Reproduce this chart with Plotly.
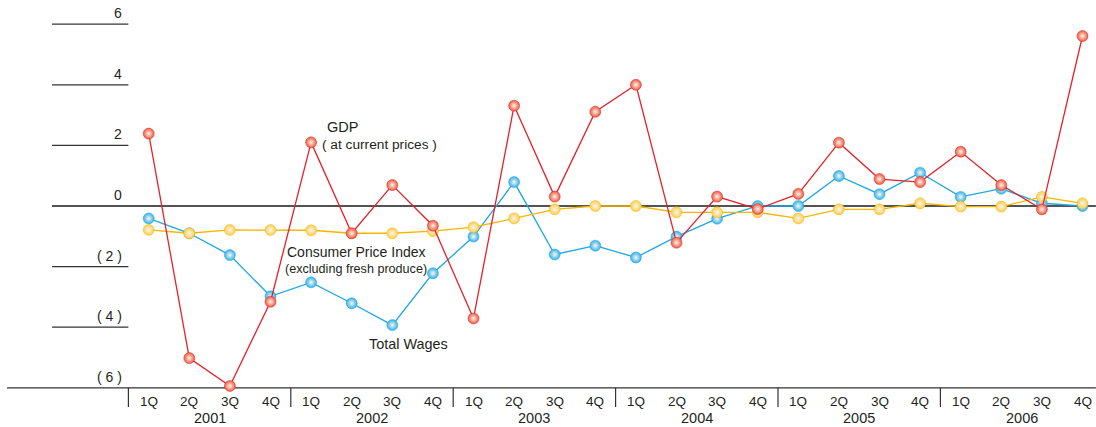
import plotly.graph_objects as go

years = ["2001", "2002", "2003", "2004", "2005", "2006"]
quarters = ["1Q", "2Q", "3Q", "4Q"]
periods = [f"{y} {q}" for y in years for q in quarters]

gdp = [2.39, -5.02, -5.94, -3.16,
       2.10, -0.90, 0.69, -0.65,
       -3.71, 3.31, 0.31, 3.11,
       4.00, -1.21, 0.31, -0.10,
       0.40, 2.09, 0.89, 0.79,
       1.79, 0.69, -0.11, 5.61]
wages = [-0.41, -0.90, -1.62, -2.98,
         -2.52, -3.21, -3.93, -2.22,
         -1.01, 0.79, -1.60, -1.31,
         -1.70, -1.01, -0.42, 0.00,
         0.00, 0.99, 0.39, 1.10,
         0.30, 0.57, 0.09, 0.00]
cpi = [-0.79, -0.90, -0.79, -0.79,
       -0.80, -0.90, -0.90, -0.83,
       -0.70, -0.41, -0.11, 0.00,
       0.00, -0.21, -0.21, -0.21,
       -0.41, -0.11, -0.11, 0.09,
       -0.02, -0.02, 0.30, 0.09]

y_ticks = [6, 4, 2, 0, -2, -4, -6]
y_tick_labels = ["6", "4", "2", "0", "( 2 )", "( 4 )", "( 6 )"]

FONT = "Liberation Sans, Arial, sans-serif"
xs = list(range(len(periods)))

fig = go.Figure()

def add_series(vals, line_color, fill, name):
    fig.add_trace(go.Scatter(
        x=xs, y=vals, mode="lines+markers", name=name,
        line=dict(color=line_color, width=1.3),
        marker=dict(size=11, color=fill,
                    line=dict(color=line_color, width=0.5),
                    gradient=dict(type="radial", color="#fff4ee")),
        hovertext=periods, showlegend=False,
    ))

add_series(wages, "#1ea7e4", "#2fb2ea", "Total Wages")
add_series(cpi, "#f7b500", "#fbcf4f", "Consumer Price Index")
add_series(gdp, "#e3222b", "#ec5a3c", "GDP")

shapes = []
annotations = []
for v, lab in zip(y_ticks, y_tick_labels):
    if v == 0:
        shapes.append(dict(type="line", xref="x", yref="y", x0=-2.38, x1=23.33,
                           y0=0, y1=0, line=dict(color="#1a1a1a", width=1.5), layer="below"))
    elif v == -6:
        shapes.append(dict(type="line", xref="x", yref="y", x0=-3.49, x1=23.33,
                           y0=-6, y1=-6, line=dict(color="#333333", width=1.3), layer="below"))
    else:
        shapes.append(dict(type="line", xref="x", yref="y", x0=-2.38, x1=-0.5,
                           y0=v, y1=v, line=dict(color="#333333", width=1.2), layer="below"))
    annotations.append(dict(x=-0.6, y=v, xref="x", yref="y", text=lab,
                            showarrow=False, xanchor="right", yanchor="bottom",
                            yshift=1, font=dict(family=FONT, size=14, color="#231f20")))

for k in range(len(years)):
    shapes.append(dict(type="line", xref="x", yref="y", x0=-0.5 + 4 * k, x1=-0.5 + 4 * k,
                       y0=-6, y1=-6.63, line=dict(color="#333333", width=1.2)))
for i, p in enumerate(periods):
    annotations.append(dict(x=i, y=-6.46, xref="x", yref="y", text=quarters[i % 4],
                            showarrow=False, font=dict(family=FONT, size=13.5, color="#231f20")))
for k, yr in enumerate(years):
    annotations.append(dict(x=1.5 + 4 * k, y=(206 - 427) / 30.3, xref="x", yref="y", text=yr,
                            showarrow=False, yanchor="bottom", yshift=-1,
                            font=dict(family=FONT, size=14.5, color="#231f20")))

def label(text, xpx, ypx, size=13, anchor="left"):
    annotations.append(dict(x=(xpx - 148.7) / 40.6, y=(206 - ypx) / 30.3, xref="x", yref="y",
                            text=text, showarrow=False, xanchor=anchor, yanchor="middle",
                            font=dict(family=FONT, size=size, color="#231f20")))

label("GDP", 325, 127, 14.5)
label("( at current prices )", 320, 144, 13.7)
label("Consumer Price Index", 285, 252, 14)
label("(excluding fresh produce)", 283, 269, 12.6)
label("Total Wages", 367, 344, 14.4)

fig.update_layout(
    width=1096, height=427,
    margin=dict(l=0, r=0, t=0, b=0),
    paper_bgcolor="white", plot_bgcolor="white",
    xaxis=dict(range=[-148.7 / 40.6, (1096 - 148.7) / 40.6], visible=False, domain=[0, 1]),
    yaxis=dict(range=[(206 - 427) / 30.3, 206 / 30.3], visible=False, domain=[0, 1]),
    shapes=shapes, annotations=annotations,
)

fig.write_html("out.html")
